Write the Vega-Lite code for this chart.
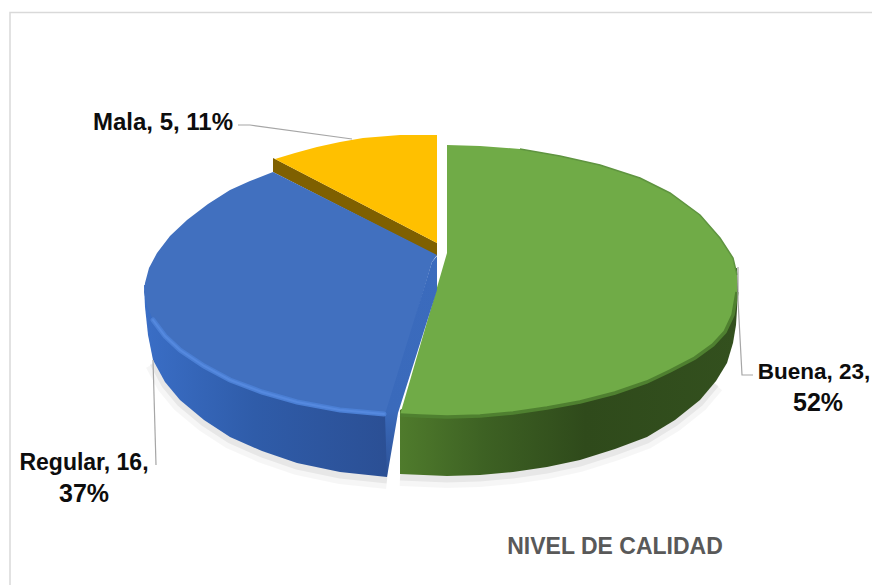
{
  "$schema": "https://vega.github.io/schema/vega-lite/v6.json",
  "width": 872,
  "height": 585,
  "padding": 0,
  "autosize": "none",
  "background": "white",
  "config": {"view": {"stroke": null}},
  "datasets": {
    "frame": [
      {"i": 1, "px": 10, "py": 585}, {"i": 2, "px": 10, "py": 12.5}, {"i": 3, "px": 872, "py": 12.5}
    ],
    "baseEdge": [
      {"i": 3, "s": "Regular", "px": 153, "py": 360},
      {"i": 4, "s": "Regular", "px": 165, "py": 382}, {"i": 5, "s": "Regular", "px": 180, "py": 400}, {"i": 6, "s": "Regular", "px": 204, "py": 420},
      {"i": 7, "s": "Regular", "px": 230, "py": 437}, {"i": 8, "s": "Regular", "px": 262, "py": 451}, {"i": 9, "s": "Regular", "px": 297, "py": 463},
      {"i": 10, "s": "Regular", "px": 340, "py": 472}, {"i": 11, "s": "Regular", "px": 387, "py": 477},
      {"i": 1, "s": "Buena", "px": 400, "py": 474}, {"i": 2, "s": "Buena", "px": 447, "py": 476}, {"i": 3, "s": "Buena", "px": 480, "py": 475},
      {"i": 4, "s": "Buena", "px": 513, "py": 472}, {"i": 5, "s": "Buena", "px": 547, "py": 467}, {"i": 6, "s": "Buena", "px": 580, "py": 460},
      {"i": 7, "s": "Buena", "px": 615, "py": 449}, {"i": 8, "s": "Buena", "px": 647, "py": 437}, {"i": 9, "s": "Buena", "px": 675, "py": 420},
      {"i": 10, "s": "Buena", "px": 700, "py": 400}, {"i": 11, "s": "Buena", "px": 716, "py": 381}
    ],
    "sideBuena": [
      {"i": 1, "px": 737, "py": 268}, {"i": 2, "px": 738, "py": 292}, {"i": 3, "px": 736, "py": 325}, {"i": 4, "px": 733, "py": 343},
      {"i": 5, "px": 727, "py": 363}, {"i": 6, "px": 716, "py": 381}, {"i": 7, "px": 700, "py": 400}, {"i": 8, "px": 675, "py": 420},
      {"i": 9, "px": 647, "py": 437}, {"i": 10, "px": 615, "py": 449}, {"i": 11, "px": 580, "py": 460}, {"i": 12, "px": 547, "py": 467},
      {"i": 13, "px": 513, "py": 472}, {"i": 14, "px": 480, "py": 475}, {"i": 15, "px": 447, "py": 476}, {"i": 16, "px": 400, "py": 474},
      {"i": 17, "px": 400, "py": 410}, {"i": 18, "px": 600, "py": 300}
    ],
    "sideRegular": [
      {"i": 1, "px": 144, "py": 285}, {"i": 2, "px": 145, "py": 307}, {"i": 3, "px": 148, "py": 335}, {"i": 4, "px": 153, "py": 360},
      {"i": 5, "px": 165, "py": 382}, {"i": 6, "px": 180, "py": 400}, {"i": 7, "px": 204, "py": 420}, {"i": 8, "px": 230, "py": 437},
      {"i": 9, "px": 262, "py": 451}, {"i": 10, "px": 297, "py": 463}, {"i": 11, "px": 340, "py": 472}, {"i": 12, "px": 387, "py": 477},
      {"i": 13, "px": 390, "py": 410}, {"i": 14, "px": 250, "py": 300}
    ],
    "wallRegular": [
      {"i": 1, "px": 437, "py": 256}, {"i": 2, "px": 437, "py": 290}, {"i": 3, "px": 398, "py": 413}, {"i": 4, "px": 387, "py": 477},
      {"i": 5, "px": 385, "py": 414}, {"i": 6, "px": 432, "py": 262}
    ],
    "wallMala": [
      {"i": 1, "px": 273, "py": 158}, {"i": 2, "px": 273, "py": 172}, {"i": 3, "px": 437, "py": 256}, {"i": 4, "px": 437, "py": 243}, {"i": 5, "px": 277, "py": 160}
    ],
    "topFaces": [
      {"s": "Buena", "i": 1, "px": 447, "py": 145}, {"s": "Buena", "i": 2, "px": 480, "py": 146}, {"s": "Buena", "i": 3, "px": 520, "py": 149},
      {"s": "Buena", "i": 4, "px": 560, "py": 156}, {"s": "Buena", "i": 5, "px": 600, "py": 165}, {"s": "Buena", "i": 6, "px": 640, "py": 178},
      {"s": "Buena", "i": 7, "px": 670, "py": 193}, {"s": "Buena", "i": 8, "px": 700, "py": 215}, {"s": "Buena", "i": 9, "px": 720, "py": 238},
      {"s": "Buena", "i": 10, "px": 733, "py": 258}, {"s": "Buena", "i": 11, "px": 737, "py": 275}, {"s": "Buena", "i": 12, "px": 737, "py": 292},
      {"s": "Buena", "i": 13, "px": 733, "py": 315}, {"s": "Buena", "i": 14, "px": 725, "py": 332}, {"s": "Buena", "i": 15, "px": 713, "py": 345},
      {"s": "Buena", "i": 16, "px": 695, "py": 358}, {"s": "Buena", "i": 17, "px": 670, "py": 371}, {"s": "Buena", "i": 18, "px": 647, "py": 382},
      {"s": "Buena", "i": 19, "px": 615, "py": 393}, {"s": "Buena", "i": 20, "px": 580, "py": 402}, {"s": "Buena", "i": 21, "px": 547, "py": 408},
      {"s": "Buena", "i": 22, "px": 513, "py": 413}, {"s": "Buena", "i": 23, "px": 480, "py": 416}, {"s": "Buena", "i": 24, "px": 447, "py": 417},
      {"s": "Buena", "i": 25, "px": 420, "py": 416}, {"s": "Buena", "i": 26, "px": 400, "py": 415}, {"s": "Buena", "i": 27, "px": 447, "py": 253},
      {"s": "Regular", "i": 1, "px": 273, "py": 172}, {"s": "Regular", "i": 2, "px": 250, "py": 181}, {"s": "Regular", "i": 3, "px": 230, "py": 190},
      {"s": "Regular", "i": 4, "px": 208, "py": 204}, {"s": "Regular", "i": 5, "px": 187, "py": 220}, {"s": "Regular", "i": 6, "px": 170, "py": 236},
      {"s": "Regular", "i": 7, "px": 157, "py": 253}, {"s": "Regular", "i": 8, "px": 149, "py": 268}, {"s": "Regular", "i": 9, "px": 145, "py": 283},
      {"s": "Regular", "i": 10, "px": 144, "py": 292}, {"s": "Regular", "i": 11, "px": 147, "py": 306}, {"s": "Regular", "i": 12, "px": 153, "py": 320},
      {"s": "Regular", "i": 13, "px": 165, "py": 336}, {"s": "Regular", "i": 14, "px": 180, "py": 350}, {"s": "Regular", "i": 15, "px": 204, "py": 366},
      {"s": "Regular", "i": 16, "px": 230, "py": 380}, {"s": "Regular", "i": 17, "px": 262, "py": 392}, {"s": "Regular", "i": 18, "px": 297, "py": 402},
      {"s": "Regular", "i": 19, "px": 340, "py": 410}, {"s": "Regular", "i": 20, "px": 387, "py": 415}, {"s": "Regular", "i": 21, "px": 432, "py": 262},
      {"s": "Regular", "i": 22, "px": 437, "py": 255},
      {"s": "Mala", "i": 1, "px": 437, "py": 135}, {"s": "Mala", "i": 2, "px": 400, "py": 135}, {"s": "Mala", "i": 3, "px": 363, "py": 138},
      {"s": "Mala", "i": 4, "px": 340, "py": 142}, {"s": "Mala", "i": 5, "px": 317, "py": 147}, {"s": "Mala", "i": 6, "px": 295, "py": 153},
      {"s": "Mala", "i": 7, "px": 275, "py": 159}, {"s": "Mala", "i": 8, "px": 437, "py": 243}
    ],
    "rimLight": [
      {"i": 2, "px": 153, "py": 320}, {"i": 3, "px": 165, "py": 336},
      {"i": 4, "px": 180, "py": 350}, {"i": 5, "px": 204, "py": 366}, {"i": 6, "px": 230, "py": 380},
      {"i": 7, "px": 262, "py": 392}, {"i": 8, "px": 297, "py": 402}, {"i": 9, "px": 340, "py": 410},
      {"i": 10, "px": 384, "py": 414}
    ],
    "rimDark": [
      {"i": 1, "px": 737, "py": 292}, {"i": 2, "px": 733, "py": 315}, {"i": 3, "px": 725, "py": 332}, {"i": 4, "px": 713, "py": 345},
      {"i": 5, "px": 695, "py": 358}, {"i": 6, "px": 670, "py": 371}, {"i": 7, "px": 647, "py": 382}, {"i": 8, "px": 615, "py": 393},
      {"i": 9, "px": 580, "py": 402}, {"i": 10, "px": 547, "py": 408}, {"i": 11, "px": 513, "py": 413}, {"i": 12, "px": 480, "py": 416},
      {"i": 13, "px": 447, "py": 417}, {"i": 14, "px": 420, "py": 416}, {"i": 15, "px": 400, "py": 415}
    ],
    "backEdge": [
      {"i": 1, "px": 520, "py": 149}, {"i": 2, "px": 560, "py": 156}, {"i": 3, "px": 600, "py": 165}, {"i": 4, "px": 640, "py": 178},
      {"i": 5, "px": 670, "py": 193}, {"i": 6, "px": 700, "py": 215}, {"i": 7, "px": 720, "py": 238}, {"i": 8, "px": 733, "py": 258}, {"i": 9, "px": 737, "py": 275}
    ],
    "leaders": [
      {"s": "Mala", "i": 1, "px": 238, "py": 125}, {"s": "Mala", "i": 2, "px": 250, "py": 125}, {"s": "Mala", "i": 3, "px": 352, "py": 139},
      {"s": "Regular", "i": 1, "px": 153, "py": 360}, {"s": "Regular", "i": 2, "px": 156, "py": 465},
      {"s": "Buena", "i": 1, "px": 738, "py": 267}, {"s": "Buena", "i": 2, "px": 738, "py": 300}, {"s": "Buena", "i": 3, "px": 742, "py": 375}, {"s": "Buena", "i": 4, "px": 753, "py": 375}
    ],
    "labelMala": [{"text": "Mala, 5, 11%", "px": 163, "py": 130}],
    "labelBuena": [{"text": "Buena, 23,", "px": 814, "py": 379}],
    "labelRegular": [{"text": "Regular, 16,", "px": 84, "py": 470}],
    "labelShares": [
      {"text": "52%", "px": 818, "py": 411},
      {"text": "37%", "px": 84, "py": 502}
    ],
    "heading": [
      {"text": "NIVEL DE CALIDAD", "px": 615, "py": 554}
    ]
  },
  "encoding": {
    "x": {"field": "px", "type": "quantitative", "scale": {"domain": [0, 872], "nice": false, "zero": false}, "axis": null},
    "y": {"field": "py", "type": "quantitative", "scale": {"domain": [585, 0], "nice": false, "zero": false}, "axis": null},
    "order": {"field": "i", "type": "ordinal"}
  },
  "layer": [
    {
      "data": {"name": "frame"},
      "mark": {"type": "line", "stroke": "#d9d9d9", "strokeWidth": 1.5}
    },
    {
      "data": {"name": "baseEdge"},
      "mark": {"type": "line", "stroke": "#000000", "strokeOpacity": 0.035, "strokeWidth": 16, "yOffset": 4},
      "encoding": {"detail": {"field": "s"}}
    },
    {
      "data": {"name": "baseEdge"},
      "mark": {"type": "line", "stroke": "#000000", "strokeOpacity": 0.06, "strokeWidth": 7, "yOffset": 3},
      "encoding": {"detail": {"field": "s"}}
    },
    {
      "data": {"name": "sideBuena"},
      "mark": {
        "type": "line", "filled": true, "strokeWidth": 0,
        "fill": {"gradient": "linear", "x1": 0, "x2": 1, "y1": 0, "y2": 0, "stops": [
          {"offset": 0, "color": "#4f7b2c"}, {"offset": 0.25, "color": "#3d6123"}, {"offset": 0.55, "color": "#2f4a1b"}, {"offset": 1, "color": "#33501e"}
        ]}
      }
    },
    {
      "data": {"name": "sideRegular"},
      "mark": {
        "type": "line", "filled": true, "strokeWidth": 0,
        "fill": {"gradient": "linear", "x1": 0, "x2": 1, "y1": 0, "y2": 0, "stops": [
          {"offset": 0, "color": "#3a6ec6"}, {"offset": 0.45, "color": "#2f5ca9"}, {"offset": 1, "color": "#2b4f94"}
        ]}
      }
    },
    {
      "data": {"name": "wallMala"},
      "mark": {"type": "line", "filled": true, "fill": "#7f6000", "strokeWidth": 0}
    },
    {
      "data": {"name": "topFaces"},
      "mark": {"type": "line", "filled": true, "strokeWidth": 0},
      "encoding": {
        "fill": {
          "field": "s", "type": "nominal", "legend": null,
          "scale": {"domain": ["Buena", "Regular", "Mala"], "range": ["#70ab47", "#4170bf", "#ffc000"]}
        }
      }
    },
    {
      "data": {"name": "wallRegular"},
      "mark": {
        "type": "line", "filled": true, "strokeWidth": 0,
        "fill": {"gradient": "linear", "x1": 0, "x2": 0, "y1": 0, "y2": 1, "stops": [
          {"offset": 0, "color": "#3b6bbd"}, {"offset": 0.7, "color": "#3a6abb"}, {"offset": 1, "color": "#2d5298"}
        ]}
      }
    },
    {
      "data": {"name": "backEdge"},
      "mark": {"type": "line", "stroke": "#5f9440", "strokeWidth": 1.5}
    },
    {
      "data": {"name": "rimDark"},
      "mark": {"type": "line", "stroke": "#4f8030", "strokeWidth": 3.5}
    },
    {
      "data": {"name": "rimLight"},
      "mark": {"type": "line", "stroke": "#4b7fd4", "strokeWidth": 5, "strokeCap": "round"}
    },
    {
      "data": {"name": "rimLight"},
      "mark": {"type": "line", "stroke": "#5589df", "strokeWidth": 2, "strokeCap": "round"}
    },
    {
      "data": {"name": "leaders"},
      "mark": {"type": "line", "stroke": "#a6a6a6", "strokeWidth": 1.2},
      "encoding": {"detail": {"field": "s"}}
    },
    {
      "data": {"name": "labelMala"},
      "mark": {"type": "text", "font": "Liberation Sans", "fontWeight": "bold", "fontSize": 24, "align": "center", "baseline": "alphabetic", "fill": "#0d0d0d"},
      "encoding": {"text": {"field": "text"}, "order": {"value": null}}
    },
    {
      "data": {"name": "labelBuena"},
      "mark": {"type": "text", "font": "Liberation Sans", "fontWeight": "bold", "fontSize": 22.5, "align": "center", "baseline": "alphabetic", "fill": "#0d0d0d"},
      "encoding": {"text": {"field": "text"}, "order": {"value": null}}
    },
    {
      "data": {"name": "labelRegular"},
      "mark": {"type": "text", "font": "Liberation Sans", "fontWeight": "bold", "fontSize": 23, "align": "center", "baseline": "alphabetic", "fill": "#0d0d0d"},
      "encoding": {"text": {"field": "text"}, "order": {"value": null}}
    },
    {
      "data": {"name": "labelShares"},
      "mark": {"type": "text", "font": "Liberation Sans", "fontWeight": "bold", "fontSize": 25, "align": "center", "baseline": "alphabetic", "fill": "#0d0d0d"},
      "encoding": {"text": {"field": "text"}, "order": {"value": null}}
    },
    {
      "data": {"name": "heading"},
      "mark": {"type": "text", "font": "Liberation Sans", "fontWeight": "bold", "fontSize": 23, "align": "center", "baseline": "alphabetic", "fill": "#595959"},
      "encoding": {"text": {"field": "text"}, "order": {"value": null}}
    }
  ]
}
